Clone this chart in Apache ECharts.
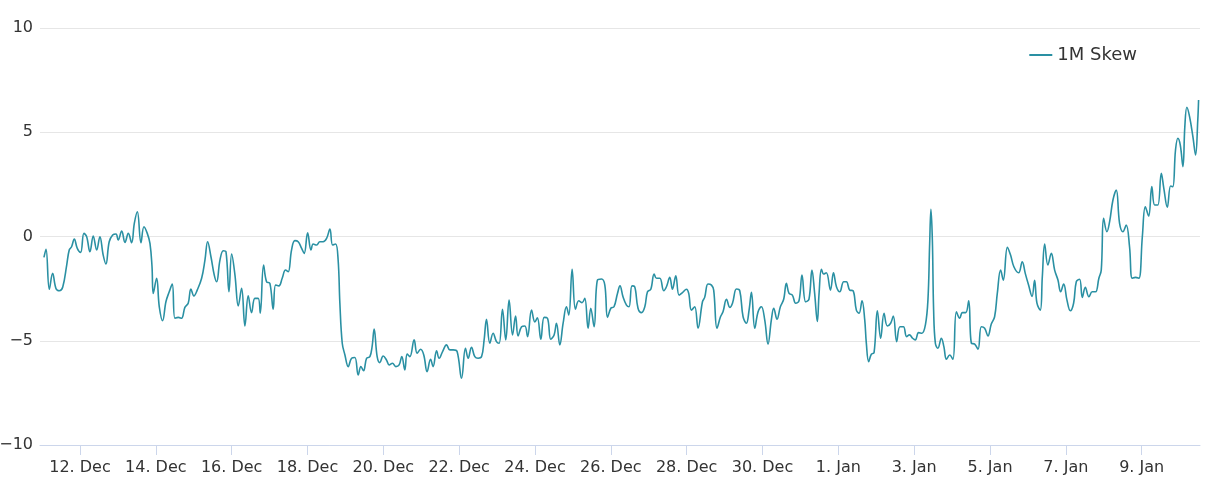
<!DOCTYPE html>
<html>
<head>
<meta charset="utf-8">
<script src="https://cdn.jsdelivr.net/npm/echarts@6/dist/echarts.min.js"></script>
<style>
  html, body { margin: 0; padding: 0; background: #fff; }
  #chart { width: 1206px; height: 491px; }
</style>
</head>
<body>
<div id="chart"></div>
<script>
// hours counted from 11 Dec 00:00
const hours = [
  1.2, 2.5, 4.6, 6.7, 8.8, 10.9, 13.1, 15.6, 17.2, 18.7, 20.4, 22.3, 24.4, 26.5, 28.2, 30.3, 32.4, 34.6, 36.6, 38.7,
  40.4, 42.5, 44.7, 46.8, 48.2, 50.4, 52.5, 54.6, 56.7, 58.4, 60.3, 62.6, 64.5, 66.6, 68.3, 69.6, 70.4, 72.5, 74.2, 76.3,
  78.4, 80.5, 82.4, 84.1, 86.2, 88.3, 90.4, 92.5, 94.2, 96.1, 98.2, 101.0, 103.1, 104.8, 106.9, 109.0, 110.5, 112.6, 114.7, 116.4,
  118.3, 120.0, 122.1, 124.2, 126.3, 128.4, 130.5, 132.6, 134.7, 136.8, 138.1, 140.2, 142.1, 144.2, 146.3, 147.8, 149.9, 152.0, 154.1, 155.8,
  157.9, 160.0, 162.1, 164.3, 165.9, 168.1, 170.2, 171.6, 173.8, 175.8, 177.9, 180.1, 182.2, 183.9, 185.8, 187.4, 188.5, 190.0, 191.7, 193.8,
  195.9, 198.0, 200.1, 201.8, 203.5, 205.4, 207.5, 208.9, 210.2, 212.1, 213.8, 215.9, 218.0, 219.7, 221.8, 223.9, 226.0, 227.7, 229.6, 231.1,
  232.8, 235.5, 237.4, 239.6, 241.6, 243.7, 245.9, 247.5, 249.7, 251.3, 253.5, 256.0, 258.1, 260.2, 262.7, 265.5, 268.0, 269.7, 271.8, 273.9,
  276.0, 278.2, 279.8, 281.3, 283.4, 285.5, 287.6, 289.3, 291.4, 293.5, 295.6, 297.8, 299.7, 301.3, 303.5, 305.6, 307.3, 309.8, 311.9, 313.5,
  315.7, 317.8, 319.9, 322.0, 324.1, 325.6, 327.7, 329.8, 331.9, 333.4, 335.5, 337.6, 339.7, 341.8, 343.5, 345.6, 347.3, 349.4, 351.5, 354.1,
  356.2, 357.9, 360.0, 362.0, 364.2, 365.8, 367.7, 369.9, 371.5, 373.4, 375.1, 377.2, 379.4, 381.5, 383.2, 385.3, 387.4, 388.9, 391.0, 393.5,
  395.2, 397.3, 399.0, 401.1, 403.2, 405.3, 407.9, 409.3, 411.0, 413.1, 415.2, 418.0, 419.4, 421.5, 423.7, 425.1, 427.2, 429.4, 431.0, 433.2,
  435.3, 437.0, 439.5, 441.6, 443.7, 445.8, 447.5, 449.0, 451.1, 453.2, 455.3, 457.4, 459.5, 461.6, 463.1, 465.2, 467.3, 469.4, 471.1, 472.8,
  474.9, 477.0, 479.1, 481.0, 483.3, 485.4, 487.3, 489.0, 490.7, 491.8, 493.3, 494.7, 496.4, 499.0, 500.9, 502.8, 504.9, 507.4, 509.1, 511.2,
  513.3, 515.4, 517.1, 519.0, 520.7, 521.7, 523.2, 524.9, 526.6, 528.7, 530.8, 532.9, 535.0, 537.1, 538.8, 540.9, 543.0, 545.2, 547.2, 549.0,
  551.0, 552.7, 554.8, 556.9, 559.1, 560.7, 561.8, 562.6, 563.5, 564.3, 565.4, 567.0, 569.2, 570.8, 572.4, 574.5, 576.5, 578.7, 580.8, 582.5,
  584.6, 586.5, 588.2, 590.3, 592.4, 594.5, 596.6, 598.7, 600.8, 602.9, 604.6, 606.7, 608.4, 611.0, 613.0, 615.1, 618.1, 620.4, 622.3, 624.4,
  626.6, 628.2, 629.7, 631.8, 633.1, 634.6, 636.6, 638.8, 640.9, 643.0, 644.7, 646.6, 648.7, 650.8, 652.9, 654.6, 656.7, 658.4, 660.3, 662.6,
  664.7, 666.8, 668.9, 670.4, 671.9, 674.0, 675.7, 677.8, 679.9, 682.0, 684.1, 686.2, 688.3, 690.0, 692.1, 694.2, 696.4, 698.3, 700.4, 702.4,
  704.2, 706.2, 708.4, 710.0, 712.2, 714.3, 715.7, 717.4, 718.9, 720.4, 722.1, 723.3, 724.6, 726.3, 728.4, 730.1, 731.5, 732.0
];

const skew = [
  -1.0, -0.61, -2.53, -1.77, -2.49, -2.6, -2.42, -1.37, -0.65, -0.49, -0.12, -0.57, -0.76, 0.15, 0.0, -0.73, 0.02, -0.65, -0.01, -0.89,
  -1.32, -0.25, 0.07, 0.12, -0.17, 0.26, -0.28, 0.15, -0.3, 0.63, 1.19, -0.3, 0.47, 0.15, -0.33, -1.45, -2.73, -2.0, -3.37, -4.04,
  -3.13, -2.65, -2.28, -3.92, -3.88, -3.92, -3.4, -3.2, -2.52, -2.85, -2.57, -2.0, -1.13, -0.25, -0.97, -1.85, -2.17, -1.13, -0.68, -0.73,
  -2.65, -0.84, -1.85, -3.33, -2.49, -4.29, -2.85, -3.65, -2.97, -2.97, -3.68, -1.37, -2.17, -2.25, -3.49, -2.33, -2.37, -2.0, -1.61, -1.69,
  -0.65, -0.2, -0.25, -0.57, -0.81, 0.18, -0.65, -0.36, -0.41, -0.25, -0.25, -0.09, 0.36, -0.41, -0.36, -1.13, -3.2, -5.12, -5.68, -6.24,
  -5.84, -5.8, -6.64, -6.24, -6.44, -5.84, -5.76, -5.28, -4.44, -5.76, -6.05, -5.73, -5.92, -6.16, -6.08, -6.24, -6.16, -5.76, -6.4, -5.64,
  -5.76, -4.96, -5.6, -5.41, -5.68, -6.48, -5.89, -6.24, -5.48, -5.84, -5.52, -5.2, -5.44, -5.44, -5.52, -6.8, -5.36, -5.84, -5.31, -5.76,
  -5.84, -5.76, -4.96, -3.97, -5.12, -4.64, -5.04, -5.12, -3.49, -4.96, -3.05, -4.72, -3.81, -4.77, -4.33, -4.29, -4.8, -3.53, -4.1, -3.9,
  -4.93, -3.88, -3.92, -4.93, -4.72, -4.16, -5.2, -4.16, -3.37, -3.77, -1.57, -3.49, -3.08, -3.17, -2.97, -4.4, -3.44, -4.33, -2.09, -2.04,
  -2.33, -3.88, -3.44, -3.37, -2.73, -2.37, -2.89, -3.29, -3.37, -2.37, -2.41, -3.44, -3.65, -3.37, -2.65, -2.53, -1.8, -2.0, -2.0, -2.6,
  -2.41, -1.96, -2.53, -1.89, -2.81, -2.69, -2.53, -2.73, -3.53, -3.37, -4.4, -3.13, -2.92, -2.28, -2.33, -2.57, -4.4, -3.85, -3.61, -3.01,
  -3.4, -3.2, -2.52, -2.6, -3.85, -4.16, -3.53, -2.68, -4.4, -3.61, -3.37, -4.0, -5.16, -4.0, -3.44, -3.97, -3.37, -3.01, -2.25, -2.73,
  -2.81, -3.2, -3.08, -1.85, -3.13, -3.01, -1.61, -2.73, -4.08, -2.73, -1.57, -1.8, -1.74, -2.57, -1.74, -2.41, -2.65, -2.17, -2.17, -2.57,
  -2.6, -3.53, -3.68, -3.08, -4.0, -5.1, -6.0, -5.64, -5.57, -3.56, -4.88, -3.68, -4.29, -4.16, -3.81, -5.04, -4.33, -4.33, -4.8, -4.72,
  -4.88, -4.96, -4.61, -4.64, -4.24, -3.05, -0.33, 1.3, -0.17, -3.53, -5.12, -5.36, -4.88, -5.28, -5.89, -5.68, -5.89, -3.61, -3.92, -3.65,
  -3.65, -3.08, -5.12, -5.16, -5.41, -4.33, -4.4, -4.77, -4.2, -3.85, -2.73, -1.61, -2.09, -0.52, -0.89, -1.45, -1.74, -1.21, -1.77, -2.33,
  -2.87, -2.1, -3.2, -3.53, -1.93, -0.36, -1.37, -0.81, -1.61, -2.09, -2.65, -2.28, -3.05, -3.56, -3.2, -2.17, -2.05, -2.92, -2.44, -2.89,
  -2.65, -2.65, -2.0, -1.61, 0.87, 0.23, 0.71, 1.75, 2.23, 0.63, 0.23, 0.55, -0.49, -2.0, -1.96, -2.0, -0.01, 1.43, 0.98, 2.39,
  1.51, 1.51, 3.03, 2.31, 1.4, 2.42, 2.39, 4.15, 4.71, 4.39, 3.35, 5.27, 6.2, 5.75, 4.79, 3.91, 5.59, 6.55
];

// x-axis ticks every two days (hours from 11 Dec 00:00)
const tickHours = [24, 72, 120, 168, 216, 264, 312, 360, 408, 456, 504, 552, 600, 648, 696];
const tickLabels = ["12. Dec", "14. Dec", "16. Dec", "18. Dec", "20. Dec", "22. Dec", "24. Dec", "26. Dec",
  "28. Dec", "30. Dec", "1. Jan", "3. Jan", "5. Jan", "7. Jan", "9. Jan"];

// visible time range of the axis, slightly wider than the data
const xRange = [-1.3, 732.9];

const yTicks = [-10, -5, 0, 5, 10];

const seriesName = "1M Skew";
const lineColor = "#2a90a3";
const fontFamily = "'DejaVu Sans', Verdana, sans-serif";

const points = hours.map((h, i) => [h, skew[i]]);

const chart = echarts.init(document.getElementById("chart"), null, { renderer: "canvas" });

chart.setOption({
    animation: false,
    backgroundColor: "#ffffff",
    textStyle: { fontFamily: fontFamily },
    grid: { left: 40, right: 6, top: 28, bottom: 46, containLabel: false, outerBoundsMode: "none" },
    legend: {
        right: 64,
        top: 41,
        itemWidth: 23,
        itemHeight: 2,
        itemGap: 10,
        icon: "rect",
        data: [seriesName],
        textStyle: { fontSize: 18, color: "#333333", fontFamily: fontFamily }
    },
    xAxis: {
        type: "value",
        min: xRange[0],
        max: xRange[1],
        splitLine: { show: false },
        axisLine: { show: true, onZero: false, lineStyle: { color: "#ccd6eb", width: 1 } },
        axisTick: {
            show: true,
            length: 10,
            lineStyle: { color: "#ccd6eb" },
            customValues: tickHours
        },
        axisLabel: {
            customValues: tickHours,
            margin: 15,
            fontSize: 16,
            color: "#333333",
            fontFamily: fontFamily,
            formatter: (value) => {
                const idx = tickHours.indexOf(Math.round(value));
                return idx >= 0 ? tickLabels[idx] : "";
            }
        }
    },
    yAxis: {
        type: "value",
        min: yTicks[0],
        max: yTicks[yTicks.length - 1],
        interval: 5,
        axisLine: { show: false },
        axisTick: { show: false },
        splitLine: { show: true, lineStyle: { color: "#e6e6e6", width: 1 } },
        axisLabel: {
            margin: 7,
            fontSize: 16,
            color: "#333333",
            fontFamily: fontFamily,
            formatter: (value) => String(value).replace("-", "\u2212")
        }
    },
    series: [
        {
            name: seriesName,
            type: "line",
            data: points,
            smooth: 0.4,
            showSymbol: false,
            symbol: "none",
            lineStyle: { color: lineColor, width: 1.6 },
            itemStyle: { color: lineColor }
        }
    ]
});
</script>
</body>
</html>
